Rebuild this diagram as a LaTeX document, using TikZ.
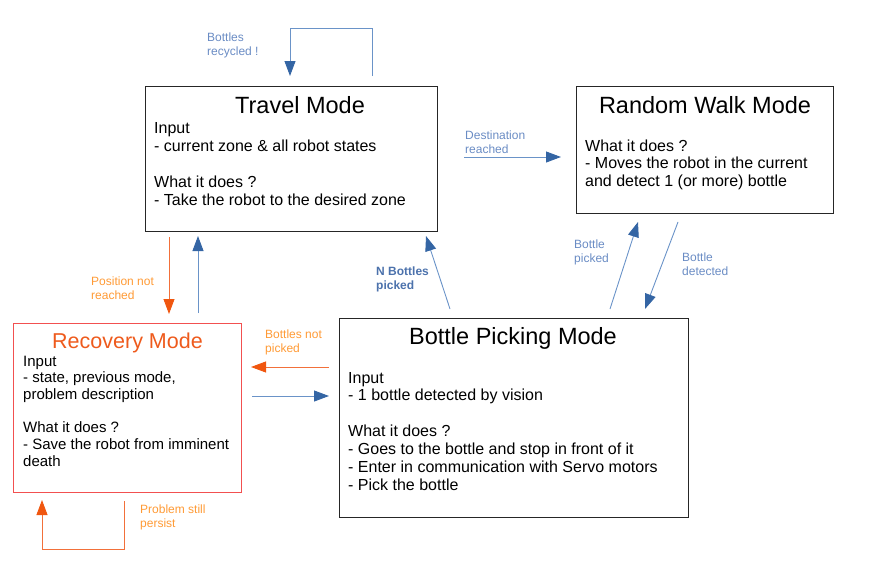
\documentclass[tikz,border=0pt]{standalone}
\usepackage{fontspec}
\setmainfont{Liberation Sans}
\usetikzlibrary{arrows.meta}
\definecolor{blueL}{HTML}{6A93C8}
\definecolor{blueH}{HTML}{3465A4}
\definecolor{blueT}{HTML}{6A8CC4}
\definecolor{blueN}{HTML}{4C72AC}
\definecolor{orgL}{HTML}{F2703A}
\definecolor{orgH}{HTML}{F0560F}
\definecolor{orgT}{HTML}{FF9A35}
\definecolor{recT}{HTML}{EE5A1C}
\definecolor{recB}{HTML}{F25050}
\tikzset{
  modebox/.style={draw=black!85, line width=0.9pt, fill=none},
  title/.style={anchor=base, inner sep=0pt, font=\fontsize{23.5}{26}\selectfont},
  body/.style={anchor=base west, inner sep=0pt, font=\fontsize{16}{18}\selectfont},
  rbody/.style={anchor=base west, inner sep=0pt, font=\fontsize{15}{17}\selectfont},
  lbl/.style={anchor=base west, inner sep=0pt, align=left, font=\fontsize{12}{14}\selectfont},
  bluearrow/.style={draw=blueL, line width=0.9pt, -{Triangle[length=15pt,width=11pt,color=blueH]}},
  orgarrow/.style={draw=orgL, line width=0.9pt, -{Triangle[length=15pt,width=11pt,color=orgH]}},
}
\begin{document}
\begin{tikzpicture}[x=1pt,y=-1pt]
\useasboundingbox (0,0) rectangle (875,570);
% boxes
\draw[modebox] (145,86) rectangle (437,231);
\node[minimum width=292pt, minimum height=145pt, inner sep=0pt] (travel) at (291,158.5) {};
\draw[modebox] (576,86) rectangle (833,213);
\node[minimum width=257pt, minimum height=127pt, inner sep=0pt] (walk) at (704.5,149.5) {};
\draw[draw=recB, line width=0.9pt] (13,323) rectangle (241,492);
\node[minimum width=228pt, minimum height=169pt, inner sep=0pt] (recovery) at (127,407.5) {};
\draw[modebox] (339,318) rectangle (688,517);
\node[minimum width=349pt, minimum height=199pt, inner sep=0pt] (picking) at (513.5,417.5) {};
% titles
\node[title] (travelT) at (300,113) {Travel Mode};
\node[title] (walkT) at (705,113) {Random Walk Mode};
\node[title, text=recT, font=\fontsize{21.5}{24}\selectfont] (recT) at (127.5,348) {Recovery Mode};
\node[title] (pickT) at (513,344) {Bottle Picking Mode};
% bodies
\foreach \t [count=\i] in {Input,{- current zone \& all robot states},{},{What it does ?},{- Take the robot to the desired zone}}
  \node[body] (travelB\i) at (154,{133+(\i-1)*18}) {\t};
\foreach \t [count=\i] in {{What it does ?},{- Moves the robot in the current},{and detect 1 (or more) bottle}}
  \node[body] (walkB\i) at (585,{151+(\i-1)*17.6}) {\t};
\foreach \t [count=\i] in {Input,{- state, previous mode,},{problem description},{},{What it does ?},{- Save the robot from imminent},{death}}
  \node[rbody] (recB\i) at (23,{366+(\i-1)*16.7}) {\t};
\foreach \t [count=\i] in {Input,{- 1 bottle detected by vision},{},{What it does ?},{- Goes to the bottle and stop in front of it},{- Enter in communication with Servo motors},{- Pick the bottle}}
  \node[body] (pickB\i) at (348,{383+(\i-1)*17.9}) {\t};
% coordinates for connectors
\coordinate (r1a) at (372,76);
\coordinate (r1b) at (372,28);
\coordinate (r1c) at (290,28);
\coordinate (r1d) at (290,76);
\coordinate (d1) at (464,157);
\coordinate (d2) at (561,157);
\coordinate (bp1) at (610,309);
\coordinate (bp2) at (638,222);
\coordinate (bd1) at (678,222);
\coordinate (bd2) at (645,309);
\coordinate (nb1) at (450,309);
\coordinate (nb2) at (426,236);
\coordinate (pn1) at (169,237);
\coordinate (pn2) at (169,314);
\coordinate (up1) at (198,313);
\coordinate (up2) at (198,236);
\coordinate (bn1) at (329,367);
\coordinate (bn2) at (251,367);
\coordinate (rb1) at (252,396);
\coordinate (rb2) at (329,396);
\coordinate (ps1) at (124,501);
\coordinate (ps2) at (124,549);
\coordinate (ps3) at (42,549);
\coordinate (ps4) at (42,500);
% connectors
\draw[bluearrow] (r1a) -- (r1b) -- (r1c) -- (r1d);
\draw[bluearrow] (d1) -- (d2);
\draw[bluearrow] (bp1) -- (bp2);
\draw[bluearrow] (bd1) -- (bd2);
\draw[bluearrow] (nb1) -- (nb2);
\draw[orgarrow] (pn1) -- (pn2);
\draw[bluearrow] (up1) -- (up2);
\draw[orgarrow] (bn1) -- (bn2);
\draw[bluearrow] (rb1) -- (rb2);
\draw[orgarrow] (ps1) -- (ps2) -- (ps3) -- (ps4);
% labels (base = last line)
\node[lbl, text=blueT] (l1) at (207,55) {Bottles\\recycled !};
\node[lbl, text=blueT] (l2) at (465,153) {Destination\\reached};
\node[lbl, text=blueT] (l3) at (574,262) {Bottle\\picked};
\node[lbl, text=blueT] (l4) at (682,275) {Bottle\\detected};
\node[lbl, text=blueN, font=\fontsize{12}{14}\selectfont\bfseries] (l5) at (376,289) {N Bottles\\picked};
\node[lbl, text=orgT] (l6) at (91,299) {Position not\\reached};
\node[lbl, text=orgT] (l7) at (265,352) {Bottles not\\picked};
\node[lbl, text=orgT] (l8) at (140,527) {Problem still\\persist};
\end{tikzpicture}
\end{document}
